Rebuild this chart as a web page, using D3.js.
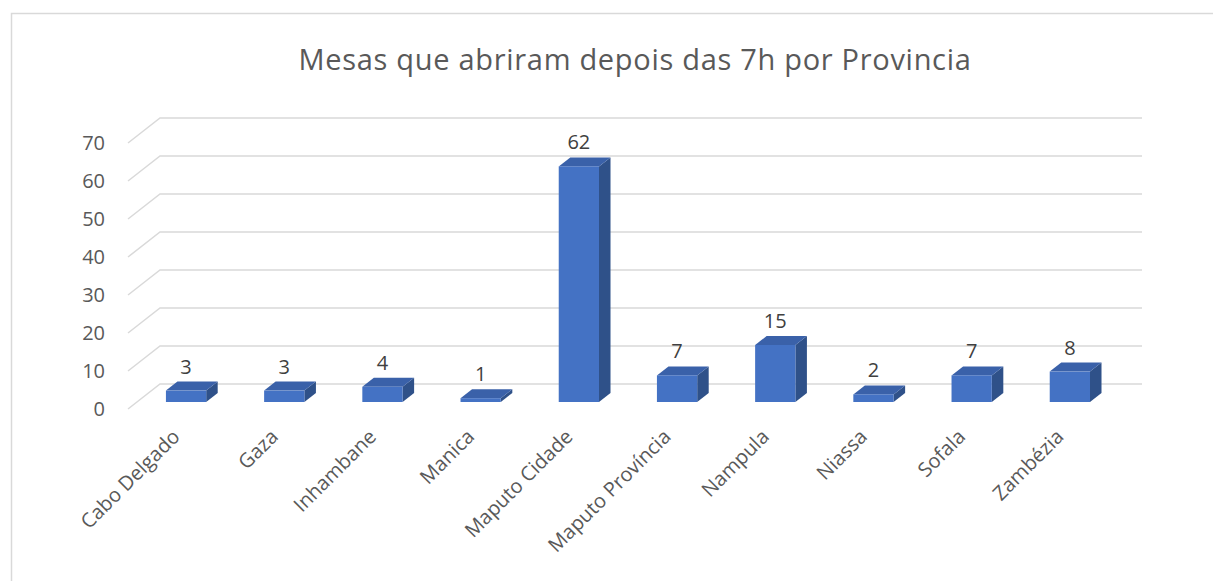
<!DOCTYPE html>
<html lang="pt">
<head>
  <meta charset="UTF-8">
  <title>Mesas que abriram depois das 7h por Provincia</title>
  <script src="https://cdnjs.cloudflare.com/ajax/libs/d3/7.8.5/d3.min.js"></script>
  <style>
    body { margin: 0; background: #fff; }
    #chart { width: 1213px; height: 581px; }
    text { font-family: "Open Sans", sans-serif; fill: #595959; }
  </style>
</head>
<body>
  <div id="chart"></div>
  <script>
    // data
    const provincias = ["Cabo Delgado", "Gaza", "Inhambane", "Manica", "Maputo Cidade",
                        "Maputo Província", "Nampula", "Niassa", "Sofala", "Zambézia"];
    const mesas = [3, 3, 4, 1, 62, 7, 15, 2, 7, 8];
    const yTicks = [0, 10, 20, 30, 40, 50, 60, 70];
    const title = "Mesas que abriram depois das 7h por Provincia";

    const W = 1213, H = 581;
    // 3d depth vector (front of floor -> back wall)
    const depth = {dx: 32, dy: -25};
    const barFront = 0.28, barBack = 0.64;

    const svg = d3.select("#chart").append("svg")
      .attr("width", W)
      .attr("height", H);

    // chart border
    svg.append("rect")
      .attr("x", 11.5).attr("y", 13.5)
      .attr("width", W + 20).attr("height", H + 20)
      .attr("fill", "none")
      .attr("stroke", "#d9d9d9")
      .attr("stroke-width", 1.5);

    const x = d3.scaleBand()
      .domain(provincias)
      .range([128, 1110])
      .paddingInner(0.59)
      .paddingOuter(0.295);

    const y = d3.scaleLinear()
      .domain([0, 70])
      .range([409, 143]);

    const proj = (px, py, t) => [px + t * depth.dx, py + t * depth.dy];

    // gridlines: diagonal on the side + horizontal on back wall
    const grid = svg.append("g");
    const x0 = x.range()[0], x1 = x.range()[1];
    yTicks.forEach(v => {
      const a = [x0, y(v)];
      const b = proj(x0, y(v), 1);
      const c = proj(x1, y(v), 1);
      grid.append("path")
        .attr("d", d3.line()([a, b, c]))
        .attr("fill", "none")
        .attr("stroke", "#d9d9d9")
        .attr("stroke-width", 1.5);
    });

    // y tick labels
    svg.append("g").selectAll("text")
      .data(yTicks)
      .join("text")
      .attr("x", 105)
      .attr("y", d => y(d))
      .attr("dy", "0.36em")
      .attr("text-anchor", "end")
      .style("font-size", "20px")
      .text(d => d);

    // bars
    const bars = svg.append("g").selectAll("g")
      .data(provincias.map((p, i) => ({p, v: mesas[i]})))
      .join("g");

    bars.each(function(d) {
      const g = d3.select(this);
      const l = x(d.p), r = x(d.p) + x.bandwidth();
      const top = y(d.v), bot = y(0);
      const f = (px, py) => proj(px, py, barFront);
      const b = (px, py) => proj(px, py, barBack);
      // side
      g.append("path")
        .attr("d", d3.line()([f(r, top), b(r, top), b(r, bot), f(r, bot)]) + "Z")
        .attr("fill", "#2f5189");
      // top
      g.append("path")
        .attr("d", d3.line()([f(l, top), b(l, top), b(r, top), f(r, top)]) + "Z")
        .attr("fill", "#3a61a9");
      // front
      const p0 = f(l, top);
      g.append("rect")
        .attr("x", p0[0]).attr("y", p0[1])
        .attr("width", x.bandwidth())
        .attr("height", bot - top)
        .attr("fill", "#4472c4");
      // value label
      const lp = b(l + x.bandwidth() / 2, top);
      g.append("text")
        .attr("x", f(l + x.bandwidth() / 2, top)[0])
        .attr("y", lp[1] - 8)
        .attr("text-anchor", "middle")
        .style("font-size", "20px")
        .style("fill", "#404040")
        .text(d.v);
    });

    // category labels (rotated)
    svg.append("g").selectAll("text")
      .data(provincias)
      .join("text")
      .attr("transform", d => `translate(${x(d) + x.bandwidth() / 2 - 1},${y(0) + 24}) rotate(-45)`)
      .attr("text-anchor", "end")
      .attr("dy", "0.35em")
      .style("font-size", "20px")
      .text(d => d);

    // title
    svg.append("text")
      .attr("x", 635)
      .attr("y", 70)
      .attr("text-anchor", "middle")
      .style("font-size", "29px")
      .style("letter-spacing", "0.7px")
      .text(title);
  </script>
</body>
</html>
